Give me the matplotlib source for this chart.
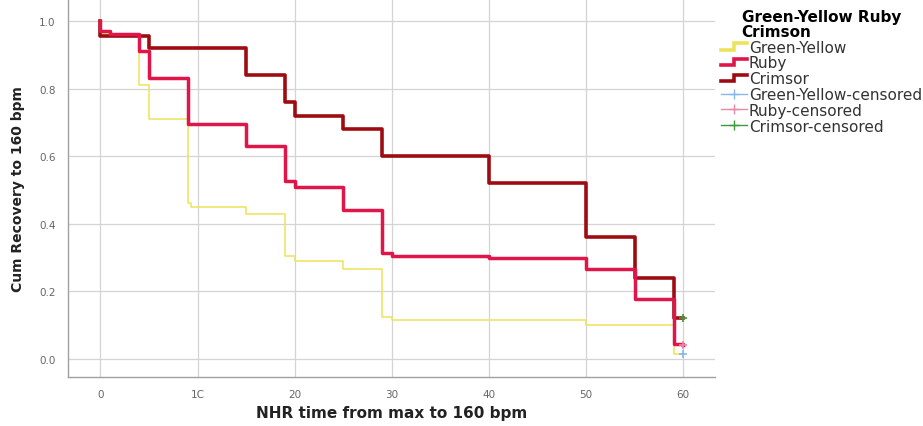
"""
Kaplan-Meier style recovery curves: NHR time from max to 160 bpm
"""
import matplotlib
matplotlib.use("Agg")
import matplotlib.pyplot as plt
from matplotlib.lines import Line2D
from matplotlib.legend_handler import HandlerBase

# Step curves (time of each step, cumulative recovery after the step)
gy_time = [0, 0, 4, 5, 9, 9.3, 15, 19, 20, 25, 29, 30, 50, 59, 60]
gy_cum = [1.0, 0.96, 0.81, 0.71, 0.46, 0.45, 0.43, 0.305, 0.29, 0.265, 0.125, 0.115, 0.10, 0.015, 0.015]

ruby_time = [0, 0, 1, 4, 5, 9, 15, 19, 20, 25, 29, 30, 40, 50, 55, 59, 60]
ruby_cum = [1.0, 0.97, 0.96, 0.91, 0.83, 0.695, 0.63, 0.527, 0.508, 0.44, 0.314, 0.306, 0.298, 0.265, 0.178, 0.044, 0.040]

crim_time = [0, 0, 5, 15, 19, 20, 25, 29, 40, 50, 55, 59, 60]
crim_cum = [1.0, 0.957, 0.92, 0.84, 0.76, 0.72, 0.68, 0.60, 0.52, 0.36, 0.24, 0.12, 0.12]

# censored observations
cens_time = [60, 60, 60]
cens_cum = [0.015, 0.040, 0.12]

x_ticks = [0, 10, 20, 30, 40, 50, 60]
x_ticklabels = ["0", "1C", "20", "30", "40", "50", "60"]
y_ticks = [0.0, 0.2, 0.4, 0.6, 0.8, 1.0]

c_gy = "#ece35a"
c_ruby = "#e0154a"
c_crim = "#9e0c12"
c_gy_c = "#86b8ea"
c_ruby_c = "#e889aa"
c_crim_c = "#3c9a3c"


class StepHandler(HandlerBase):
    """Legend key drawn as a small step."""
    def __init__(self, color, lw):
        super().__init__()
        self.color = color
        self.lw = lw

    def create_artists(self, legend, orig_handle, xdescent, ydescent,
                       width, height, fontsize, trans):
        x0, x1 = -xdescent, -xdescent + width
        xm = x0 + width * 0.5
        ylo = -ydescent + height * 0.2
        yhi = -ydescent + height * 0.8
        ln = Line2D([x0, xm, xm, x1], [ylo, ylo, yhi, yhi],
                    color=self.color, lw=self.lw, solid_joinstyle='miter',
                    transform=trans)
        return [ln]


fig = plt.figure(figsize=(9.23, 4.27), dpi=100)
ax = fig.add_axes([0.074, 0.115, 0.701, 0.885])

ax.step(gy_time, gy_cum, where='post', color=c_gy, lw=1.1, zorder=3)
ax.step(crim_time, crim_cum, where='post', color=c_crim, lw=2.6, zorder=4)
ax.step(ruby_time, ruby_cum, where='post', color=c_ruby, lw=2.5, zorder=5)

ax.plot(cens_time[0], cens_cum[0], marker='+', color=c_gy_c, ms=6, mew=1.2, zorder=6)
ax.plot(cens_time[1], cens_cum[1], marker='+', color=c_ruby_c, ms=6, mew=1.2, zorder=6)
ax.plot(cens_time[2], cens_cum[2], marker='+', color=c_crim_c, ms=6, mew=1.2, zorder=6)

ax.set_xlim(-3.3, 63.3)
ax.set_ylim(-0.053, 1.065)
ax.set_xticks(x_ticks)
ax.set_xticklabels(x_ticklabels)
ax.set_yticks(y_ticks)
ax.set_yticklabels([f"{v:.1f}" for v in y_ticks])
ax.tick_params(length=0, labelsize=7.5, labelcolor="#666666", pad=9)
ax.grid(True, color="#d4d4d4", lw=0.9)
ax.set_axisbelow(True)
for side in ["top", "right"]:
    ax.spines[side].set_visible(False)
for side in ["left", "bottom"]:
    ax.spines[side].set_color("#a0a0a0")
    ax.spines[side].set_linewidth(1.0)

ax.set_xlabel("NHR time from max to 160 bpm", fontsize=11, fontweight='bold',
              color="#222222", labelpad=4)
ax.set_ylabel("Cum Recovery to 160 bpm", fontsize=10, fontweight='semibold',
              color="#222222", labelpad=10)

labels = ["Green-Yellow", "Ruby", "Crimsor", "Green-Yellow-censored",
          "Ruby-censored", "Crimsor-censored"]
handles = [
    Line2D([], [], color=c_gy),
    Line2D([], [], color=c_ruby),
    Line2D([], [], color=c_crim),
    Line2D([], [], color=c_gy_c, lw=1, marker='+', ms=7),
    Line2D([], [], color=c_ruby_c, lw=1, marker='+', ms=7),
    Line2D([], [], color=c_crim_c, lw=1, marker='+', ms=7),
]
leg = fig.legend(handles, labels, loc='upper left', bbox_to_anchor=(0.770, 1.0),
                 frameon=False, fontsize=11, handlelength=1.7, handletextpad=0.15,
                 labelspacing=0.05, borderaxespad=0.25,
                 title="Green-Yellow Ruby\nCrimson",
                 title_fontproperties={'weight': 'bold', 'size': 11},
                 handler_map={handles[0]: StepHandler(c_gy, 2.6),
                              handles[1]: StepHandler(c_ruby, 2.6),
                              handles[2]: StepHandler(c_crim, 2.6)})
leg.get_title().set_linespacing(1.0)
for t in leg.get_texts():
    t.set_color("#333333")

fig.savefig("out.png", dpi=100)
